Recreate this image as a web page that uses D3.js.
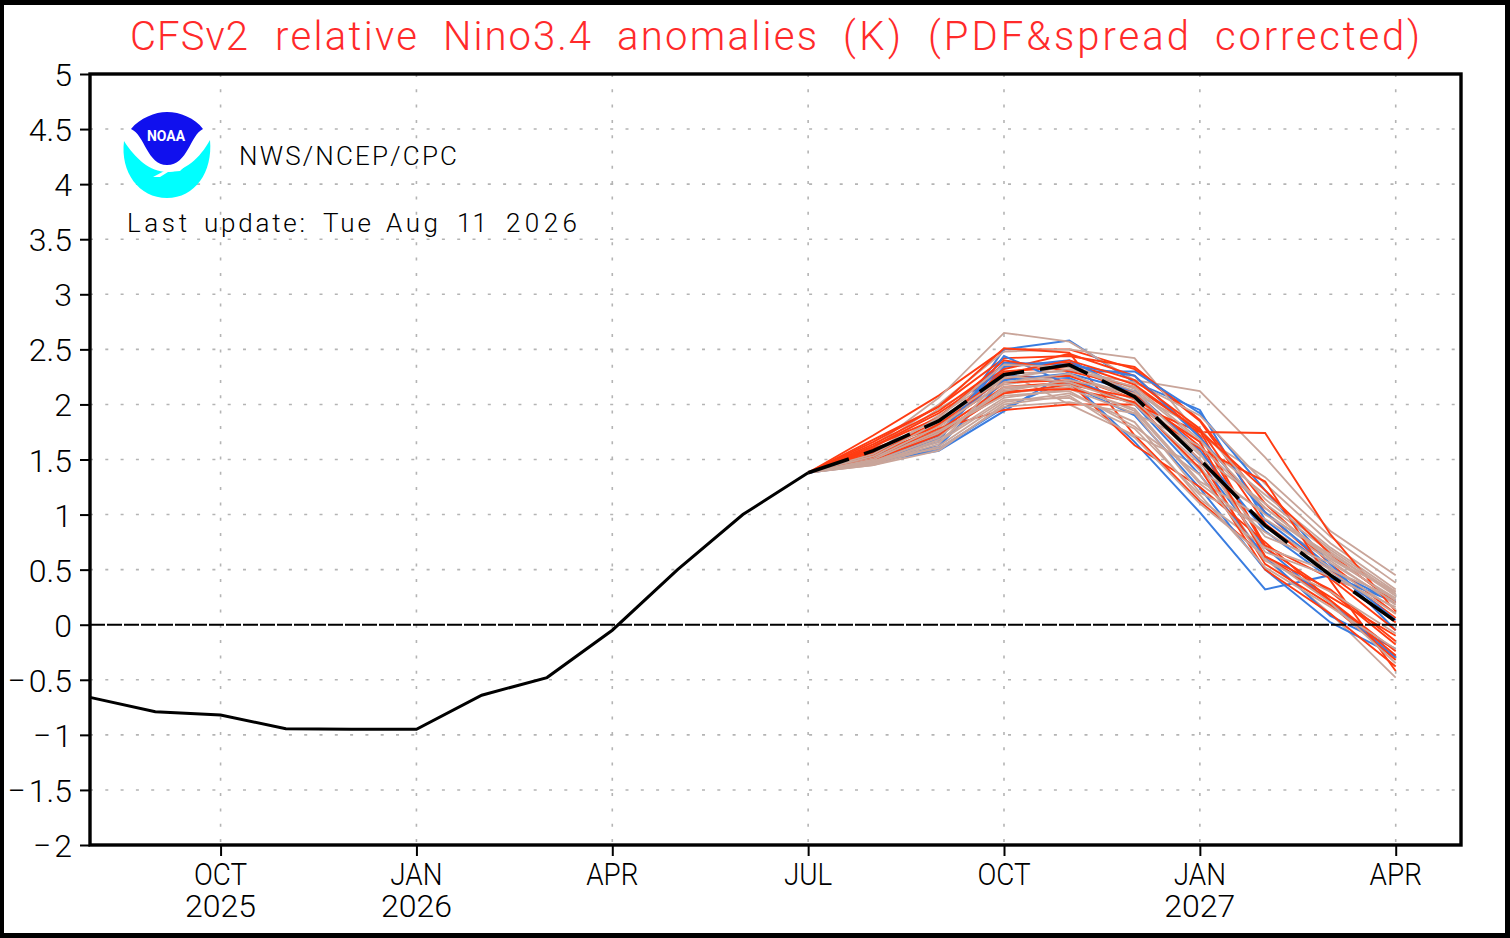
<!DOCTYPE html>
<html>
<head>
<meta charset="utf-8">
<script src="https://d3js.org/d3.v7.min.js"></script>
<style>
  html, body { margin: 0; padding: 0; background: #000; overflow: hidden; }
  text { font-family: Roboto, "Liberation Sans", sans-serif; font-weight: 300; }
</style>
</head>
<body>
<div id="dataviz"></div>
<script>
// month index 0 = AUG 2025, 21 = MAY 2027
const tickMonths = [2, 5, 8, 11, 14, 17, 20];
const tickNames = ['OCT', 'JAN', 'APR', 'JUL', 'OCT', 'JAN', 'APR'];
const tickYears = ['2025', '2026', '', '', '', '2027', ''];
const yTicks = [-2, -1.5, -1, -0.5, 0, 0.5, 1, 1.5, 2, 2.5, 3, 3.5, 4, 4.5, 5];

// observed anomalies AUG 2025 .. JUL 2026
const observed = [-0.66, -0.79, -0.82, -0.945, -0.95, -0.95, -0.64, -0.48, -0.05, 0.5, 1.0, 1.38];

// ensemble mean JUL 2026 .. APR 2027
const ensembleMean = [1.38, 1.58, 1.85, 2.27, 2.36, 2.07, 1.5, 0.9, 0.45, 0.03];

// members, AUG 2026 .. APR 2027 (all start from the JUL value)
const redMembers = [
  [1.72, 2.08, 2.50, 2.50, 2.32, 1.85, 1.02, 0.50, 0.06],
  [1.68, 1.98, 2.51, 2.47, 1.72, 1.12, 0.62, 0.25, -0.10],
  [1.66, 1.98, 2.42, 2.44, 2.34, 1.86, 1.10, 0.55, 0.10],
  [1.64, 1.94, 2.36, 2.38, 2.18, 1.76, 0.72, 0.42, -0.05],
  [1.62, 1.92, 2.32, 2.46, 2.26, 1.72, 0.70, 0.30, -0.18],
  [1.58, 1.84, 2.30, 2.34, 2.10, 1.62, 0.62, 0.22, -0.24],
  [1.56, 1.82, 2.24, 2.26, 2.05, 1.50, 0.55, 0.18, -0.32],
  [1.55, 1.78, 1.95, 2.00, 2.00, 1.75, 1.74, 0.82, 0.12],
  [1.54, 1.76, 2.16, 2.20, 1.63, 1.25, 0.75, 0.22, -0.28],
  [1.60, 1.80, 2.20, 2.22, 2.00, 1.60, 1.30, 0.40, -0.42],
  [1.52, 1.74, 2.12, 2.14, 2.02, 1.42, 0.50, 0.10, -0.38],
  [1.62, 1.88, 2.40, 2.30, 2.16, 1.76, 1.22, 0.64, 0.20],
  [1.58, 1.82, 2.28, 2.40, 2.22, 1.78, 0.92, 0.45, 0.02],
  [1.50, 1.72, 2.10, 2.18, 2.06, 1.66, 0.62, 0.32, -0.15]
];
const blueMembers = [
  [1.50, 1.66, 2.50, 2.58, 2.20, 1.95, 0.95, 0.50, 0.20],
  [1.47, 1.60, 1.97, 2.22, 1.66, 1.02, 0.32, 0.45, 0.20],
  [1.48, 1.58, 1.94, 2.30, 2.30, 1.92, 1.22, 0.55, -0.05],
  [1.46, 1.70, 2.34, 2.40, 2.10, 1.48, 0.70, 0.20, -0.30],
  [1.52, 1.76, 2.26, 2.24, 2.00, 1.36, 0.62, 0.08, -0.22],
  [1.55, 1.68, 2.44, 2.18, 1.90, 1.24, 0.50, 0.02, -0.28],
  [1.50, 1.62, 2.22, 2.28, 2.12, 1.58, 0.85, 0.42, 0.22],
  [1.49, 1.72, 2.38, 2.36, 2.26, 1.70, 1.02, 0.52, 0.04]
];
const tanMembers = [
  [1.62, 2.06, 2.65, 2.57, 2.22, 2.12, 1.52, 0.85, 0.45],
  [1.60, 2.00, 2.48, 2.50, 2.42, 1.72, 1.34, 0.80, 0.38],
  [1.56, 1.96, 2.30, 2.00, 1.72, 1.44, 0.60, 0.10, -0.48],
  [1.54, 1.90, 2.28, 2.30, 2.20, 1.90, 1.28, 0.74, 0.32],
  [1.52, 1.86, 2.22, 2.36, 2.14, 1.66, 1.18, 0.70, 0.30],
  [1.50, 1.82, 2.18, 2.26, 2.08, 1.54, 1.10, 0.66, 0.26],
  [1.48, 1.78, 2.14, 2.20, 2.02, 1.40, 1.02, 0.60, 0.24],
  [1.47, 1.72, 2.10, 2.16, 1.96, 1.30, 0.96, 0.58, 0.18],
  [1.46, 1.68, 2.06, 2.14, 1.92, 1.20, 0.90, 0.52, 0.14],
  [1.45, 1.62, 2.02, 2.10, 1.84, 1.14, 0.70, 0.48, 0.10],
  [1.45, 1.58, 2.00, 2.08, 1.70, 1.10, 0.62, 0.20, -0.35],
  [1.49, 1.74, 2.12, 2.22, 2.10, 1.78, 1.14, 0.68, 0.28],
  [1.51, 1.80, 2.20, 2.28, 2.04, 1.50, 0.80, 0.56, 0.20],
  [1.53, 1.84, 2.24, 2.32, 2.16, 1.68, 1.06, 0.62, 0.22],
  [1.55, 1.88, 2.36, 2.34, 2.12, 1.56, 0.66, 0.44, 0.16],
  [1.50, 1.76, 2.08, 2.12, 1.80, 1.36, 0.58, 0.30, -0.08],
  [1.47, 1.66, 2.04, 2.06, 1.78, 1.18, 0.52, 0.16, -0.22],
  [1.48, 1.70, 2.16, 2.18, 1.94, 1.28, 0.84, 0.50, 0.24],
  [1.49, 1.60, 1.98, 2.02, 1.92, 1.62, 1.06, 0.60, 0.30],
  [1.46, 1.64, 2.26, 2.20, 2.00, 1.46, 1.00, 0.64, 0.28]
];

const titleWords = ['CFSv2', 'relative', 'Nino3.4', 'anomalies', '(K)', '(PDF&spread', 'corrected)'];
const updateWords = ['Last', 'update:', 'Tue', 'Aug', '11', '2026'];

// set the dimensions and margins of the graph
var W = 1510, H = 938;
var margin = {top: 74, right: 49, bottom: 93, left: 90},
    width = W - margin.left - margin.right,
    height = H - margin.top - margin.bottom;

var svg = d3.select('#dataviz').append('svg')
    .attr('width', W)
    .attr('height', H)
    .style('display', 'block');

// white page with the black picture edge
svg.append('rect')
    .attr('x', 4).attr('y', 5)
    .attr('width', 1501).attr('height', 928)
    .attr('fill', '#fff');

var g = svg.append('g')
    .attr('transform', 'translate(' + margin.left + ',' + margin.top + ')');

const scaleX = d3.scaleLinear().domain([0, 21]).range([0, width]);
const scaleY = d3.scaleLinear().domain([-2, 5]).range([height, 0]);

// dotted grid
g.append('g').selectAll('line')
    .data(yTicks.filter(d => d > -2 && d < 5 && d !== 0))
    .enter().append('line')
    .attr('x1', 0).attr('x2', width)
    .attr('y1', d => scaleY(d)).attr('y2', d => scaleY(d))
    .attr('stroke', '#b4b4b4').attr('stroke-width', 1.6)
    .attr('stroke-dasharray', '3 12.3');
g.append('g').selectAll('line')
    .data(tickMonths)
    .enter().append('line')
    .attr('x1', d => scaleX(d)).attr('x2', d => scaleX(d))
    .attr('y1', 0).attr('y2', height)
    .attr('stroke', '#b4b4b4').attr('stroke-width', 1.6)
    .attr('stroke-dasharray', '3 12.3');

const line = d3.line()
    .x(d => scaleX(d.m))
    .y(d => scaleY(d.v));

// members are spread out from month 11 (JUL 2026)
const toPoints = vals => [observed[11]].concat(vals).map((v, i) => ({m: 11 + i, v: v}));

var members = g.append('g').attr('fill', 'none').style('filter', 'blur(0.5px)');
const drawMember = (vals, colour, w) => {
  if (vals) members.append('path').attr('d', line(toPoints(vals)))
      .attr('stroke', colour).attr('stroke-width', w);
};
// the colours are mixed in the original, so no colour stays on top everywhere
d3.range(20).forEach(i => {
  if (i % 2) {
    drawMember(tanMembers[i], '#c9a59a', 1.8);
    drawMember(redMembers[i], '#ff3c12', 1.9);
    drawMember(blueMembers[i], '#3a7de0', 2);
  } else {
    drawMember(redMembers[i], '#ff3c12', 1.9);
    drawMember(blueMembers[i], '#3a7de0', 2);
    drawMember(tanMembers[i], '#c9a59a', 1.8);
  }
});

// zero line
g.append('line')
    .attr('x1', 0).attr('x2', width)
    .attr('y1', scaleY(0)).attr('y2', scaleY(0))
    .attr('stroke', '#000').attr('stroke-width', 2)
    .attr('stroke-dasharray', '15 2');

// observed line
g.append('path')
    .attr('d', line(observed.map((v, i) => ({m: i, v: v}))))
    .attr('fill', 'none').attr('stroke', '#000').attr('stroke-width', 3);

// ensemble mean
g.append('path')
    .attr('d', line(ensembleMean.map((v, i) => ({m: 11 + i, v: v}))))
    .attr('fill', 'none').attr('stroke', '#000').attr('stroke-width', 3.6)
    .attr('stroke-dasharray', '50 16')
    .attr('stroke-dashoffset', 7);

// axes
const axisY = d3.axisLeft(scaleY).tickValues(yTicks).tickSize(10).tickPadding(8)
    .tickFormat(d => String(d).replace('-', '\u2212\u200A'));
const axisX = d3.axisBottom(scaleX).tickValues(tickMonths).tickSize(11).tickPadding(0).tickFormat('');

var yAxis = g.append('g').call(axisY);
yAxis.select('.domain').remove();
yAxis.selectAll('line').attr('stroke', '#000').attr('stroke-width', 2);
yAxis.selectAll('text')
    .attr('fill', '#000')
    .style('font-size', '32px')
    .attr('dy', '0.36em');

var xAxis = g.append('g').attr('transform', 'translate(0,' + height + ')').call(axisX);
xAxis.select('.domain').remove();
xAxis.selectAll('line').attr('stroke', '#000').attr('stroke-width', 2);

// month and year go in one label, two lines
var xLabels = g.append('g').selectAll('text')
    .data(tickMonths)
    .enter().append('text')
    .attr('y', height + 40)
    .attr('text-anchor', 'middle')
    .style('font-size', '32px');
xLabels.append('tspan')
    .attr('x', d => scaleX(d))
    .attr('lengthAdjust', 'spacingAndGlyphs')
    .text((d, i) => tickNames[i])
    .attr('textLength', function() { return this.getComputedTextLength() * 0.87; });
xLabels.append('tspan')
    .attr('x', d => scaleX(d))
    .attr('dy', 32)
    .text((d, i) => tickYears[i]);

// plot frame
g.append('rect')
    .attr('width', width).attr('height', height)
    .attr('fill', 'none').attr('stroke', '#000').attr('stroke-width', 3.4);

// words are placed one at a time, the original font is monospaced-ish
function spacedWords(parent, words, spans, y, size, colour) {
  var t = parent.append('text').attr('y', y).attr('fill', colour).style('font-size', size);
  t.selectAll('tspan').data(words).enter().append('tspan')
      .attr('x', (d, i) => spans[i][0])
      .attr('textLength', (d, i) => spans[i][1] - spans[i][0])
      .attr('lengthAdjust', 'spacing')
      .text(d => d);
}

// title
spacedWords(svg, titleWords,
    [[130, 248], [275, 417], [443, 591], [617, 817], [843, 901], [928, 1189], [1215, 1420]],
    50, '40px', '#ff2a2a');

// NOAA logo
var logo = svg.append('g');
logo.append('path')
    .attr('d', 'M124,141 C135,158 150,172 167,172 C185,172 200,158 210,140 C213,172 195,198 167,198 C139,198 120,172 124,141 Z')
    .attr('fill', '#00ffff');
logo.append('path')
    .attr('d', 'M131,129 C140,118 155,112 167,112 C180,112 195,118 203,129 C190,135 188,165 167,165 C147,165 145,135 131,129 Z')
    .attr('fill', '#1010ee');
logo.append('path')
    .attr('d', 'M153,177 L170,168 L186,165 L180,171 L168,172 L160,177 Z')
    .attr('fill', '#fff');
logo.append('text')
    .attr('x', 147).attr('y', 141)
    .attr('textLength', 38).attr('lengthAdjust', 'spacingAndGlyphs')
    .attr('fill', '#fff')
    .style('font-size', '14px').style('font-weight', '700')
    .text('NOAA');

svg.append('text')
    .attr('x', 239).attr('y', 165)
    .attr('textLength', 218).attr('lengthAdjust', 'spacing')
    .style('font-size', '26px')
    .text('NWS/NCEP/CPC');
spacedWords(svg, updateWords,
    [[127, 187], [204, 305], [323, 371], [386, 438], [457, 487], [506, 577]],
    232, '26px', '#000');
</script>
</body>
</html>
